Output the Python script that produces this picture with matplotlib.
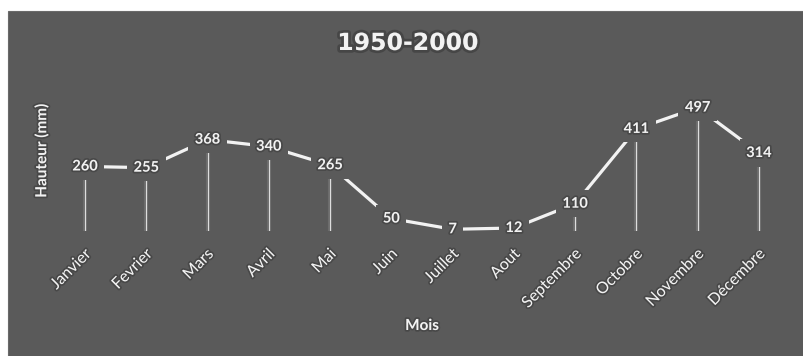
import matplotlib
matplotlib.use('Agg')
import matplotlib.pyplot as plt
import matplotlib.patheffects as pe
from matplotlib.patches import Rectangle
from matplotlib.transforms import ScaledTranslation

mois = ['Janvier', 'Fevrier', 'Mars', 'Avril', 'Mai', 'Juin', 'Juillet',
        'Aout', 'Septembre', 'Octobre', 'Novembre', 'Décembre']
hauteur = [260, 255, 368, 340, 265, 50, 7, 12, 110, 411, 497, 314]
titre = '1950-2000'

bg = '#5a5a5a'
fg = '#f2f2f2'
halo = [pe.withStroke(linewidth=2.5, foreground='#3c3c3c', alpha=0.6)]

plt.rcParams['font.family'] = ['Lato', 'DejaVu Sans']

fig = plt.figure(figsize=(8.04, 3.56), dpi=100)
fig.patch.set_facecolor('white')
# chart area (white margin left and top)
fig.patches.append(Rectangle((8 / 804, 0), 796 / 804, 345 / 356,
                             transform=fig.transFigure, facecolor=bg,
                             edgecolor='#6a6a6a', lw=0.8, zorder=-5))

ax = fig.add_axes([54.4 / 804, 125 / 356, 735.2 / 804, 149 / 356])
ax.set_facecolor('none')
x = list(range(len(mois)))

# drop lines with a soft glow
ax.vlines(x, 0, hauteur, color=fg, lw=3, alpha=0.12, zorder=1)
ax.vlines(x, 0, hauteur, color=fg, lw=0.8, alpha=0.85, zorder=1)
ax.plot(x, hauteur, color=fg, lw=2.3, solid_capstyle='butt', zorder=2)

for xi, v in zip(x, hauteur):
    ax.text(xi, v, str(v), ha='center', va='center', fontsize=10.5,
            fontweight='bold', color=fg, zorder=3, path_effects=halo,
            bbox=dict(boxstyle='square,pad=0.45', fc=bg, ec='none'))

ax.set_xlim(-0.5, 11.5)
ax.set_ylim(0, 600)
ax.set_yticks([])
ax.set_xticks(x)
ax.set_xticklabels(mois, rotation=45, ha='right', va='center',
                   rotation_mode='anchor', fontsize=11.5, color=fg)
ax.tick_params(axis='x', length=0, pad=15)
off = ScaledTranslation(4 / 100, 0, fig.dpi_scale_trans)
for lab in ax.get_xticklabels():
    lab.set_transform(lab.get_transform() + off)
    lab.set_path_effects(halo)
for s in ax.spines.values():
    s.set_visible(False)

fig.text(408 / 804, 1 - 43 / 356, titre, ha='center', va='center',
         fontsize=17, fontweight='bold', color=fg, family='DejaVu Sans',
         path_effects=[pe.withStroke(linewidth=4, foreground='#3a3a3a', alpha=0.6)])
fig.text(42 / 804, 1 - 151 / 356, 'Hauteur (mm)', rotation=90, ha='center',
         va='center', fontsize=11, fontweight='bold', color=fg, path_effects=halo)
fig.text(422 / 804, 1 - 326 / 356, 'Mois', ha='center', va='center',
         fontsize=11, fontweight='bold', color=fg, path_effects=halo)

fig.savefig('out.png', dpi=100, facecolor=fig.get_facecolor())
